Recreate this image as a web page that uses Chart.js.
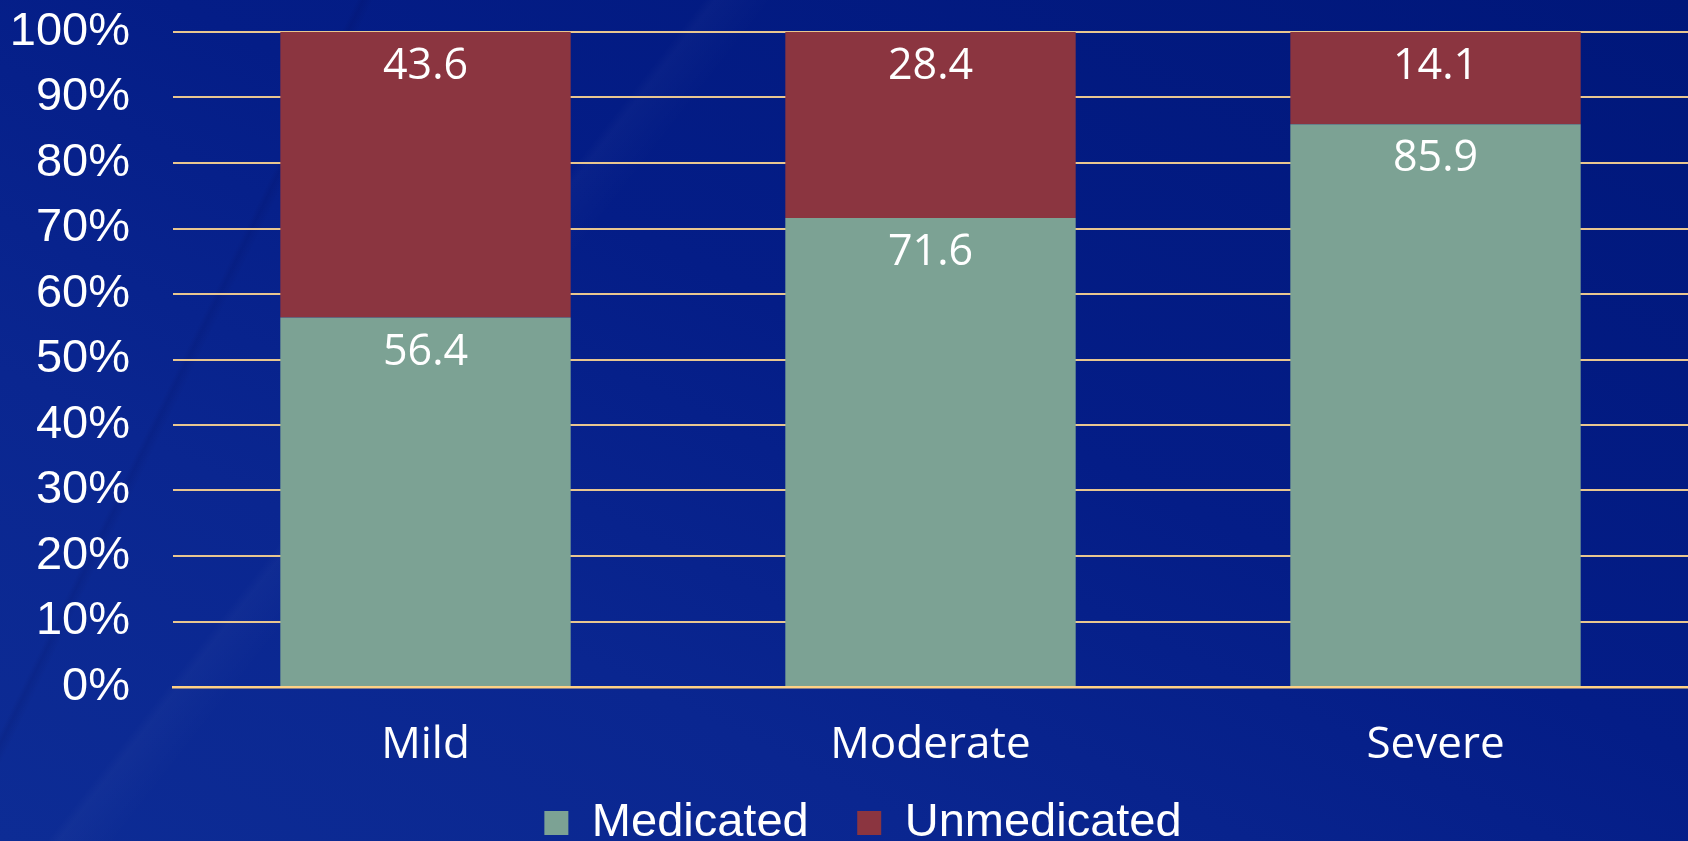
<!DOCTYPE html>
<html>
<head>
    <title>Medicated vs Unmedicated</title>
    <script src="https://cdn.jsdelivr.net/npm/chart.js"></script>
    <style>
        html, body {
            margin: 0;
            padding: 0;
            overflow: hidden;
        }
        body {
            width: 1688px;
            height: 841px;
            background:
                linear-gradient(116deg, transparent 17%, rgba(0,0,60,0.10) 17.3%, transparent 17.8%),
                linear-gradient(128deg, transparent 30%, rgba(255,255,255,0.025) 30.5%, transparent 33%),
                linear-gradient(to top right, #0d2c95 0%, #0a2690 28%, #041d87 55%, #00177a 100%);
        }
        #chart {
            display: block;
        }
    </style>
</head>
<body>
    <canvas id="chart" width="1688" height="841"></canvas>

    <script>
        var categorias = ['Mild', 'Moderate', 'Severe'];
        var medicated = [56.4, 71.6, 85.9];
        var unmedicated = [43.6, 28.4, 14.1];
        var yTicks = [0, 10, 20, 30, 40, 50, 60, 70, 80, 90, 100];

        // escreve o valor de cada segmento logo abaixo do topo da barra
        var valueLabels = {
            id: 'valueLabels',
            afterDatasetsDraw: function (chart) {
                var ctx = chart.ctx;
                ctx.save();
                ctx.fillStyle = '#ffffff';
                ctx.font = '43px "Open Sans"';
                ctx.textAlign = 'center';
                ctx.textBaseline = 'alphabetic';
                chart.data.datasets.forEach(function (ds, i) {
                    chart.getDatasetMeta(i).data.forEach(function (bar, j) {
                        ctx.fillText(ds.data[j].toFixed(1), bar.x, bar.y + 47);
                    });
                });
                ctx.restore();
            }
        };

        // posiciona a legenda: um pouco à direita e mais perto do rodapé
        var legendShift = {
            id: 'legendShift',
            afterLayout: function (chart) {
                chart.legend.left += 25;
                chart.legend.top = 751;
            }
        };

        var ctx = document.getElementById('chart').getContext('2d');
        var myChart = new Chart(ctx, {
            type: 'bar',
            data: {
                labels: categorias,
                datasets: [{
                    label: 'Medicated',
                    data: medicated,
                    backgroundColor: '#7ca294',
                    barPercentage: 0.575,
                    categoryPercentage: 1
                },
                {
                    label: 'Unmedicated',
                    data: unmedicated,
                    backgroundColor: '#8b3540',
                    barPercentage: 0.575,
                    categoryPercentage: 1
                }]
            },
            options: {
                responsive: false,
                animation: false,
                layout: {
                    padding: { left: 13, top: 32, right: 0, bottom: 0 }
                },
                plugins: {
                    tooltip: { enabled: false },
                    legend: {
                        position: 'bottom',
                        maxHeight: 38,
                        labels: {
                            color: '#ffffff',
                            font: { family: '"Liberation Sans", Arial', size: 47 },
                            boxWidth: 24,
                            boxHeight: 24,
                            padding: 48.5
                        }
                    }
                },
                scales: {
                    x: {
                        stacked: true,
                        grid: { display: false, drawTicks: false },
                        border: { color: '#ffd184', width: 2.5 },
                        ticks: {
                            color: '#ffffff',
                            font: { family: '"Open Sans"', size: 44 },
                            padding: 31.6
                        }
                    },
                    y: {
                        stacked: true,
                        min: 0,
                        max: 100,
                        afterBuildTicks: function (axis) {
                            axis.ticks = yTicks.map(function (v) { return { value: v }; });
                        },
                        afterFit: function (axis) {
                            axis.width = 160;
                            axis.paddingTop = 0;
                            axis.paddingBottom = 0;
                        },
                        grid: {
                            color: '#e8c690',
                            lineWidth: 2,
                            drawTicks: false
                        },
                        border: { display: false },
                        ticks: {
                            color: '#ffffff',
                            font: { family: '"Liberation Sans", Arial', size: 47 },
                            padding: 43,
                            callback: function (v) { return v + '%'; }
                        }
                    }
                }
            },
            plugins: [valueLabels, legendShift]
        });
    </script>
</body>
</html>
